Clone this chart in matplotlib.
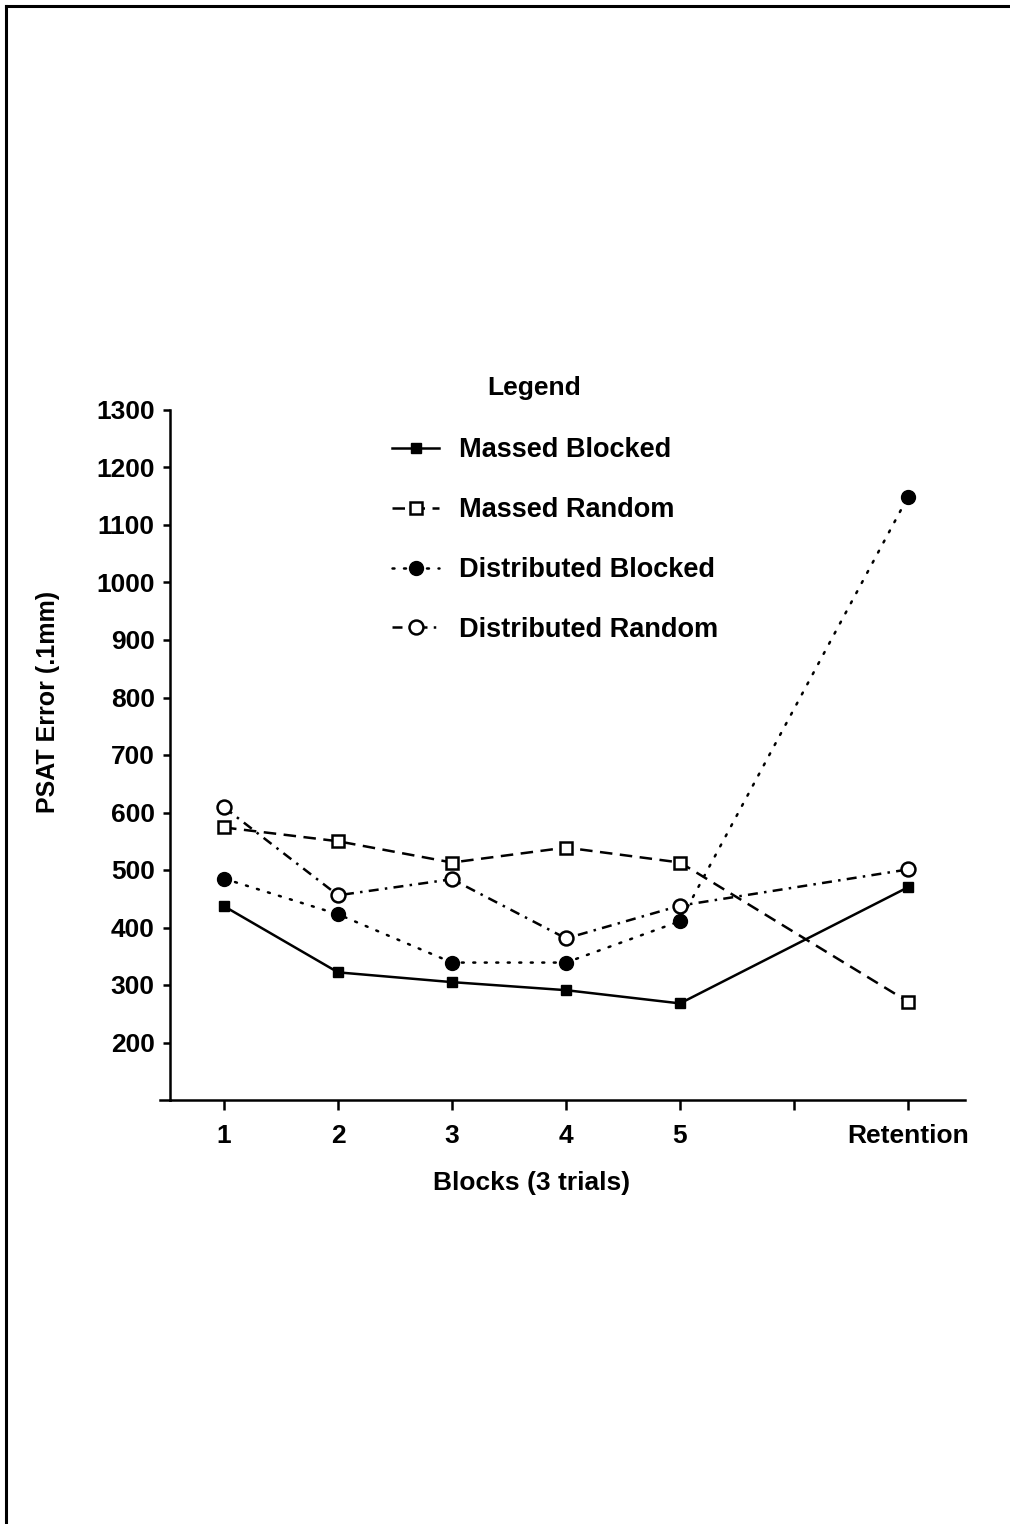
import matplotlib
matplotlib.use("Agg")
import matplotlib.pyplot as plt
from matplotlib.lines import Line2D

plt.rcParams['font.family'] = ['Liberation Sans', 'DejaVu Sans']
plt.rcParams['font.weight'] = 'bold'

blocks = [1, 2, 3, 4, 5, 7]
tick_positions = [1, 2, 3, 4, 5, 6, 7]
tick_labels = ['1', '2', '3', '4', '5', '', 'Retention']
y_ticks = [200, 300, 400, 500, 600, 700, 800, 900, 1000, 1100, 1200, 1300]

massed_blocked = [437, 322, 305, 291, 268, 470]
massed_random = [574, 550, 513, 539, 513, 271]
distributed_blocked = [485, 423, 339, 339, 411, 1149]
distributed_random = [609, 456, 484, 381, 438, 501]

W, H = 1010, 1524
fig = plt.figure(figsize=(W / 100, H / 100), dpi=100)
ax = fig.add_axes([170 / W, 1 - 1100 / H, (965 - 170) / W, (1100 - 410) / H])

lw = 1.8
ax.plot(blocks, massed_blocked, color='black', lw=lw, ls='-', marker='s',
        ms=7.5, mfc='black', mec='black', label='Massed Blocked', clip_on=False)
ax.plot(blocks, massed_random, color='black', lw=lw, ls=(0, (5, 3)), marker='s',
        ms=8, mfc='white', mec='black', mew=1.8, label='Massed Random', clip_on=False)
ax.plot(blocks, distributed_blocked, color='black', lw=lw, ls=(0, (0.8, 3.8)), marker='o',
        ms=10, mfc='black', mec='black', label='Distributed Blocked', clip_on=False,
        dash_capstyle='round')
ax.plot(blocks, distributed_random, color='black', lw=lw, ls=(0, (4, 2.5, 1, 2.5)), marker='o',
        ms=10, mfc='white', mec='black', mew=1.8, label='Distributed Random', clip_on=False)

ax.set_xlim(0.526, 7.5)
ax.set_ylim(100, 1300)
ax.set_xticks(tick_positions)
ax.set_xticklabels(tick_labels)
ax.set_yticks(y_ticks)
ax.set_yticklabels([str(v) for v in y_ticks])
for s in ['top', 'right']:
    ax.spines[s].set_visible(False)
for s in ['left', 'bottom']:
    ax.spines[s].set_linewidth(1.8)
ax.tick_params(axis='both', direction='out', width=1.8, colors='black')
ax.tick_params(axis='y', length=5, labelsize=19, pad=6)
ax.tick_params(axis='x', length=7, labelsize=19, pad=10)
# extend x axis slightly left of y axis
ax.add_line(Line2D([-0.0126, 0], [0, 0], transform=ax.transAxes, color='black',
                   lw=1.8, clip_on=False))

ax.set_xlabel('Blocks (3 trials)', fontsize=19, fontweight='bold')
ax.set_ylabel('PSAT Error (.1mm)', fontsize=18, fontweight='bold')
ax.xaxis.set_label_coords((532 - 170) / 795, -(1183 - 1100) / 690)
ax.yaxis.set_label_coords((48 - 170) / 795, (1100 - 702) / 690)
ax.xaxis.label.set_va('center')
ax.yaxis.label.set_va('center')

fig.text(534 / W, 1 - 388 / H, 'Legend', fontsize=19, fontweight='bold',
         ha='center', va='center')
leg = fig.legend(loc='upper left', bbox_to_anchor=(392 / W, 1 - 437 / H),
                 frameon=False, fontsize=19.5, handlelength=1.75, handletextpad=0.72,
                 labelspacing=1.255, borderpad=0, borderaxespad=0)
for t in leg.get_texts():
    t.set_fontweight('bold')

# page border (top and left)
fig.add_artist(Line2D([6 / W, 1], [1 - 6 / H, 1 - 6 / H], transform=fig.transFigure,
                      color='black', lw=2.2))
fig.add_artist(Line2D([6 / W, 6 / W], [0, 1 - 6 / H], transform=fig.transFigure,
                      color='black', lw=2.2))

fig.savefig('out.png', dpi=100)
